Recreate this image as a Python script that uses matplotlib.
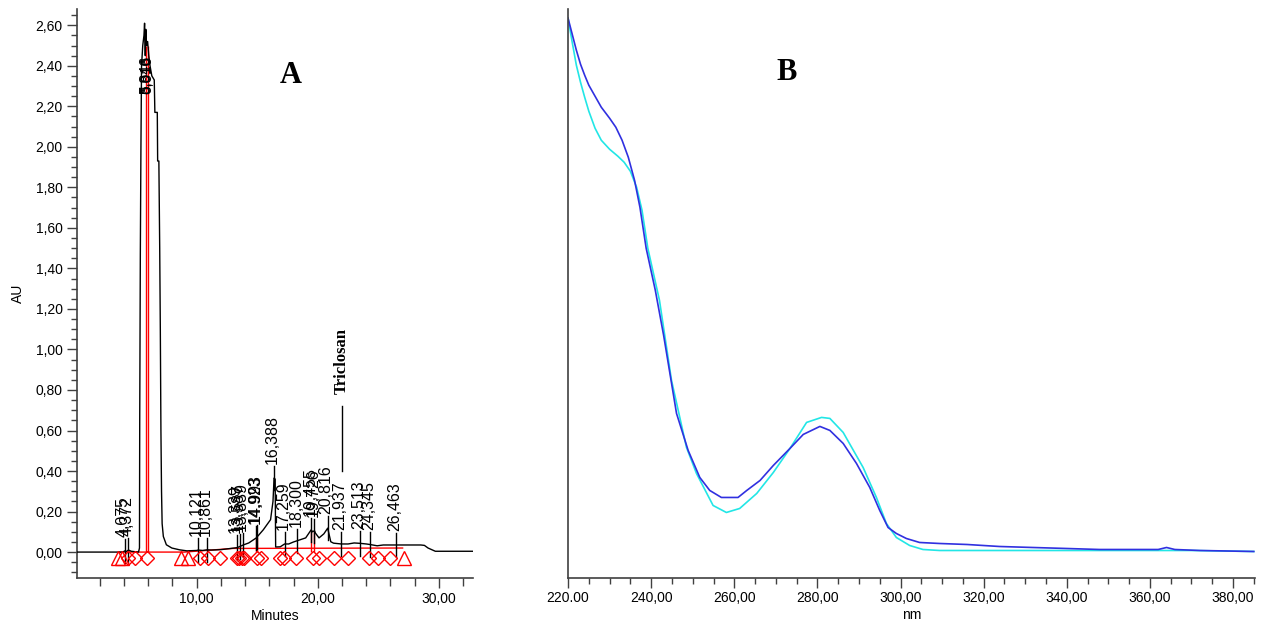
import matplotlib
matplotlib.use("Agg")
import matplotlib.pyplot as plt
from matplotlib.ticker import MultipleLocator, FuncFormatter

plt.rcParams['font.family'] = ['Liberation Sans', 'DejaVu Sans']

# chromatogram trace (minutes, AU)
trace_min = [0.1, 1.0, 2.0, 3.0, 3.9, 4.075, 4.2, 4.372, 4.6, 5.2, 5.28, 5.30, 5.35,
             5.40, 5.45, 5.55, 5.65, 5.70, 5.76, 5.80, 5.86, 5.95, 6.05, 6.15, 6.30,
             6.50, 6.55, 6.75, 6.78, 6.88, 6.95, 7.00, 7.05, 7.10, 7.15, 7.25, 7.50,
             7.95, 8.60, 9.20, 10.0, 10.121, 10.5, 10.861, 11.2, 12.0, 13.1, 13.339,
             13.587, 13.839, 14.3, 14.923, 14.993, 15.5, 16.1, 16.3, 16.39, 16.48,
             16.52, 16.9, 17.259, 17.6, 18.0, 18.3, 18.45, 19.0, 19.455, 19.55, 19.726,
             19.8, 20.1, 20.5, 20.816, 21.07, 21.3, 21.937, 22.5, 23.0, 23.513, 24.0,
             24.345, 24.9, 25.4, 26.463, 28.5, 28.8, 29.1, 29.7, 30.5, 32.8]
trace_au = [0.0, 0.0, 0.0, 0.0, 0.0, 0.006, 0.003, 0.010, 0.004, 0.0, 0.02, 0.65, 1.47,
            2.00, 2.40, 2.50, 2.55, 2.61, 2.45, 2.58, 2.50, 2.52, 2.45, 2.40, 2.35,
            2.33, 2.17, 2.17, 1.93, 1.93, 1.50, 1.10, 0.60, 0.30, 0.14, 0.077, 0.036,
            0.02, 0.011, 0.006, 0.008, 0.010, 0.008, 0.011, 0.010, 0.012, 0.02, 0.022,
            0.028, 0.035, 0.045, 0.070, 0.075, 0.11, 0.16, 0.25, 0.365, 0.36,
            0.025, 0.026, 0.040, 0.040, 0.05, 0.056, 0.059, 0.07, 0.11, 0.10, 0.105,
            0.094, 0.07, 0.09, 0.118, 0.051, 0.044, 0.040, 0.040, 0.045, 0.043, 0.040,
            0.037, 0.031, 0.035, 0.035, 0.035, 0.033, 0.02, 0.004, 0.004, 0.004]

# labelled peaks: retention time, label, apex height
peak_rt = [4.075, 4.372, 10.121, 10.861, 13.339, 13.587, 13.839, 14.923, 14.993,
           16.388, 17.259, 18.300, 19.455, 19.726, 20.816, 21.937, 23.513, 24.345, 26.463]
peak_lbl = ['4,075', '4,372', '10,121', '10,861', '13,339', '13,587', '13,839', '14,923',
            '14,993', '16,388', '17,259', '18,300', '19,455', '19,726', '20,816', '21,937',
            '23,513', '24,345', '26,463']
peak_h = [0.006, 0.010, 0.010, 0.011, 0.022, 0.028, 0.035, 0.070, 0.075,
          0.365, 0.040, 0.056, 0.110, 0.105, 0.118, 0.040, 0.043, 0.037, 0.035]

# main peak cluster
main_rt = [5.846, 5.916, 6.016]
main_lbl = ['5,846', '5,916', '6,016']

# integration baseline
base_min = [3.6, 9.0, 13.0, 27.0]
base_au = [0.0, 0.0, 0.018, 0.02]

# drop lines (minutes, top in AU)
drop_min = [5.846, 6.016, 14.923, 14.993, 19.455, 19.726]
drop_top = [2.50, 2.50, 0.070, 0.075, 0.110, 0.105]

# peak start/end and boundary marks
start_end_min = [3.5, 3.8, 8.7, 9.25, 27.1]
boundary_min = [4.34, 4.94, 5.9, 10.3, 10.9, 11.95, 13.3, 13.5, 13.75, 13.87, 14.97,
                15.3, 16.9, 17.2, 18.2, 19.6, 20.1, 21.3, 22.5, 24.2, 25.0, 26.0]

# UV spectra of the triclosan peak
nm_blue = [220, 221, 222, 223, 224, 225, 226.5, 228, 230, 231.5, 233, 234.5, 236, 237.3,
           238.8, 241, 243, 246.1, 248.9, 251.7, 254.1, 256.9, 260.9, 263, 266.2, 269.4,
           273.4, 276.6, 280.6, 283, 286.2, 289.4, 292.6, 295, 297, 299, 301.4, 304.6,
           309.4, 316, 323.8, 331.8, 340, 347.9, 355.8, 362, 364, 366, 372, 385]
abs_blue = [0.559, 0.543, 0.527, 0.513, 0.502, 0.492, 0.481, 0.470, 0.459, 0.450, 0.437,
            0.420, 0.397, 0.370, 0.329, 0.287, 0.242, 0.164, 0.127, 0.100, 0.087, 0.080,
            0.080, 0.087, 0.097, 0.112, 0.129, 0.143, 0.151, 0.147, 0.134, 0.114, 0.090,
            0.067, 0.050, 0.044, 0.039, 0.035, 0.034, 0.033, 0.031, 0.030, 0.029, 0.028,
            0.028, 0.028, 0.030, 0.028, 0.027, 0.026]
nm_cyan = [220, 221, 222, 223, 224, 225, 226.5, 228, 230, 232, 233.5, 235, 236.5, 237.8,
           239.2, 242, 244.9, 248.5, 250.9, 254.9, 258.1, 261.3, 265.4, 269.4, 273.4,
           277.4, 281, 283, 286.2, 291, 294.2, 296.6, 299, 302.2, 305.4, 309.4, 316, 330,
           350, 370, 385]
abs_cyan = [0.559, 0.535, 0.512, 0.495, 0.480, 0.466, 0.449, 0.437, 0.428, 0.421, 0.415,
            0.406, 0.390, 0.367, 0.329, 0.277, 0.197, 0.130, 0.104, 0.072, 0.065, 0.069,
            0.084, 0.105, 0.129, 0.155, 0.160, 0.159, 0.145, 0.110, 0.080, 0.054, 0.040,
            0.032, 0.028, 0.027, 0.027, 0.027, 0.027, 0.027, 0.026]

nm_ticks = [220, 240, 260, 280, 300, 320, 340, 360, 380]
nm_tick_lbl = ['220.00', '240,00', '260,00', '280,00', '300,00', '320,00', '340,00',
               '360,00', '380,00']

fig = plt.figure(figsize=(12.64, 6.28), dpi=100)
axA = fig.add_axes([0.0607, 0.0796, 0.3137, 0.906])
axB = fig.add_axes([0.4494, 0.0804, 0.5435, 0.905])

comma = FuncFormatter(lambda v, p: ('%.2f' % v).replace('.', ','))
spine_col = '#404040'

# ---- A: chromatogram
axA.plot(trace_min, trace_au, color='black', lw=1.0, zorder=3)
axA.plot(base_min, base_au, color='red', lw=1.0, zorder=2)
axA.vlines(drop_min, [0] * len(drop_min), drop_top, color='red', lw=1.0, zorder=2)
axA.plot(start_end_min, [-0.028] * len(start_end_min), ls='none', marker='^', ms=10.5,
         mfc='none', mec='red', mew=1.0, zorder=4)
axA.plot(boundary_min, [-0.028] * len(boundary_min), ls='none', marker='D', ms=7,
         mfc='none', mec='red', mew=1.0, zorder=4)

for rt, lbl, h in zip(peak_rt, peak_lbl, peak_h):
    axA.plot([rt, rt], [h - 0.06, h + 0.06], color='black', lw=1.0, zorder=3)
    axA.text(rt - 0.12, h + 0.07, lbl, rotation=90, ha='center', va='bottom',
             fontsize=11.5, zorder=5)
for rt, lbl in zip(main_rt, main_lbl):
    axA.text(rt - 0.1, 2.26, lbl, rotation=90, ha='center', va='bottom',
             fontsize=11, zorder=5)

axA.plot([22.0, 22.0], [0.40, 0.72], color='black', lw=1.0)
axA.text(22.0, 0.78, 'Triclosan', rotation=90, ha='center', va='bottom',
         fontsize=12, fontweight='bold', family='Liberation Serif')
axA.text(17.8, 2.35, 'A', ha='center', va='center', fontsize=22, fontweight='bold',
         family='Liberation Serif')

axA.set_xlim(0.1, 32.83)
axA.set_ylim(-0.128, 2.68)
axA.set_xticks([10, 20, 30])
axA.xaxis.set_minor_locator(MultipleLocator(2))
axA.set_yticks([i * 0.2 for i in range(14)])
axA.yaxis.set_minor_locator(MultipleLocator(0.05))
axA.xaxis.set_major_formatter(comma)
axA.yaxis.set_major_formatter(comma)
axA.set_xlabel('Minutes', fontsize=10, labelpad=2)
axA.set_ylabel('AU', fontsize=10, labelpad=8)

# ---- B: spectra
axB.plot(nm_cyan, abs_cyan, color='#22e6e6', lw=1.2)
axB.plot(nm_blue, abs_blue, color='#3030e0', lw=1.2)
axB.text(272.6, 0.505, 'B', ha='center', va='center', fontsize=22, fontweight='bold',
         family='Liberation Serif')
axB.set_xlim(220, 385.3)
axB.set_ylim(0, 0.568)
axB.set_xticks(nm_ticks)
axB.set_xticklabels(nm_tick_lbl)
axB.xaxis.set_minor_locator(MultipleLocator(5))
axB.set_yticks([])
axB.set_xlabel('nm', fontsize=10, labelpad=2)

for ax in (axA, axB):
    for s in ('top', 'right'):
        ax.spines[s].set_visible(False)
    for s in ('left', 'bottom'):
        ax.spines[s].set_color(spine_col)
        ax.spines[s].set_linewidth(1.2)
    ax.tick_params(which='major', length=7, width=1, color=spine_col, labelsize=10, pad=3)
    ax.tick_params(which='minor', length=4, width=1, color=spine_col)
axA.tick_params(axis='x', which='minor', length=6)

fig.savefig('out.png', dpi=100)
